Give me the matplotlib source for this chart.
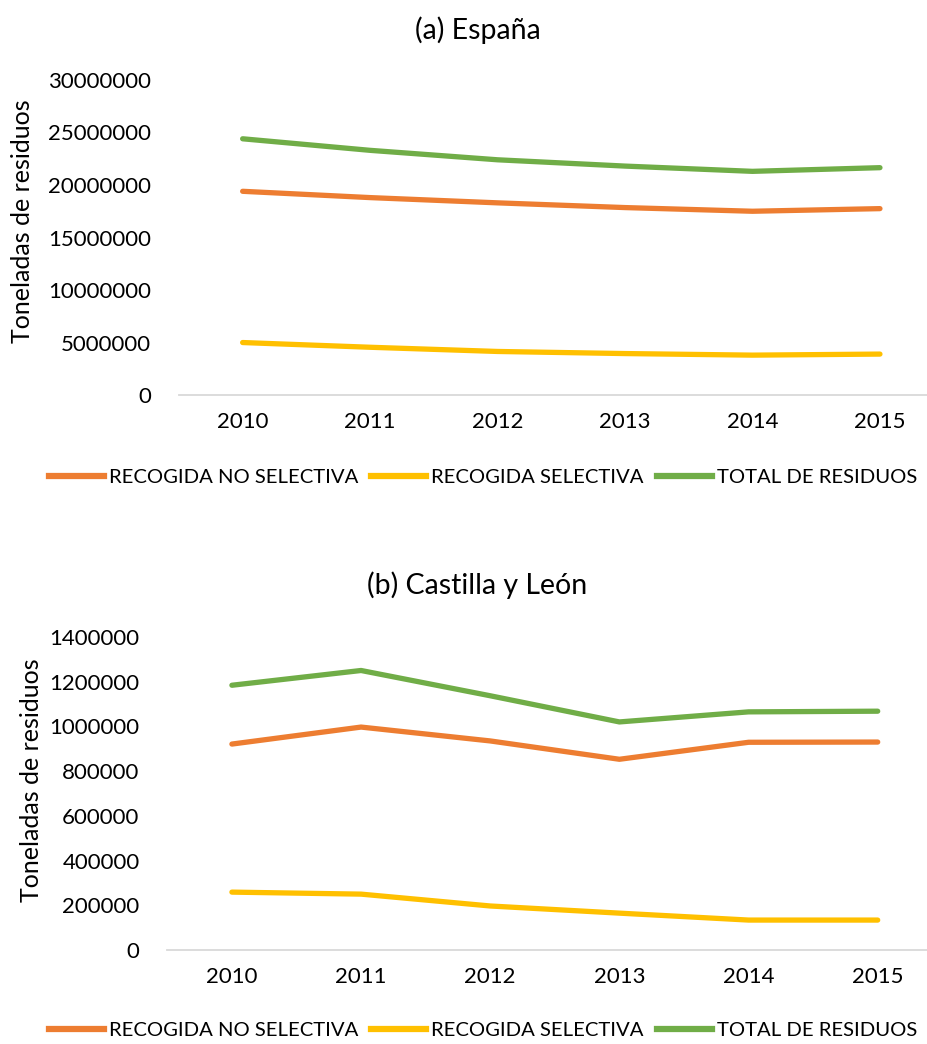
import matplotlib.pyplot as plt
from matplotlib.lines import Line2D

plt.rcParams['font.family'] = ['Lato', 'DejaVu Sans']

years = ['2010', '2011', '2012', '2013', '2014', '2015']
series_names = ['RECOGIDA NO SELECTIVA', 'RECOGIDA SELECTIVA', 'TOTAL DE RESIDUOS']
colors = ['#ED7D31', '#FFC000', '#70AD47']

# España
esp_no_selectiva = [19400000, 18800000, 18300000, 17850000, 17500000, 17750000]
esp_selectiva = [5000000, 4550000, 4150000, 3950000, 3800000, 3900000]
esp_total = [24400000, 23300000, 22400000, 21800000, 21300000, 21650000]

# Castilla y León
cyl_no_selectiva = [921000, 997000, 935000, 853000, 929000, 930000]
cyl_selectiva = [259000, 250000, 197000, 165000, 134000, 134000]
cyl_total = [1184000, 1250000, 1137000, 1020000, 1065000, 1068000]

fig = plt.figure(figsize=(9.27, 10.44), dpi=100)


def panel(rect, title, data, ymax, step, title_y, legend_y, ylabel_x, ylabel_y):
    ax = fig.add_axes(rect)
    x = range(len(years))
    for vals, c in zip(data, colors):
        ax.plot(x, vals, color=c, lw=3.8, solid_capstyle='round')
    ax.set_xlim(-0.5, 5.5)
    ax.set_ylim(0, ymax)
    ax.set_yticks(range(0, ymax + 1, step))
    ax.set_yticklabels([str(v) for v in range(0, ymax + 1, step)])
    ax.set_xticks(list(x))
    ax.set_xticklabels(years)
    for s in ['top', 'right', 'left']:
        ax.spines[s].set_visible(False)
    ax.spines['bottom'].set_color('#D9D9D9')
    ax.spines['bottom'].set_linewidth(1.3)
    ax.tick_params(axis='both', length=0, labelsize=16, colors='#000000')
    ax.tick_params(axis='x', pad=12)
    ax.tick_params(axis='y', pad=20)
    fig.text(0.515, title_y, title, ha='center', va='center', fontsize=20.5)
    fig.text(ylabel_x, ylabel_y, 'Toneladas de residuos', rotation=90,
             ha='center', va='center', fontsize=18)
    handles = [Line2D([], [], color=c, lw=4.5) for c in colors]
    fig.legend(handles, series_names, loc='center', bbox_to_anchor=(0.521, legend_y),
               ncol=3, frameon=False, fontsize=14.6, handlelength=2.7,
               handletextpad=0.25, columnspacing=0.65)
    return ax


panel([0.193, 0.6216, 0.825, 0.3018], '(a) España',
      [esp_no_selectiva, esp_selectiva, esp_total], 30000000, 5000000,
      0.971, 0.543, 0.024, 1 - 221 / 1044)
panel([0.1805, 0.0900, 0.836, 0.2999], '(b) Castilla y León',
      [cyl_no_selectiva, cyl_selectiva, cyl_total], 1400000, 200000,
      0.439, 0.013, 0.034, 1 - 780 / 1044)

fig.savefig('out.png', dpi=100)
